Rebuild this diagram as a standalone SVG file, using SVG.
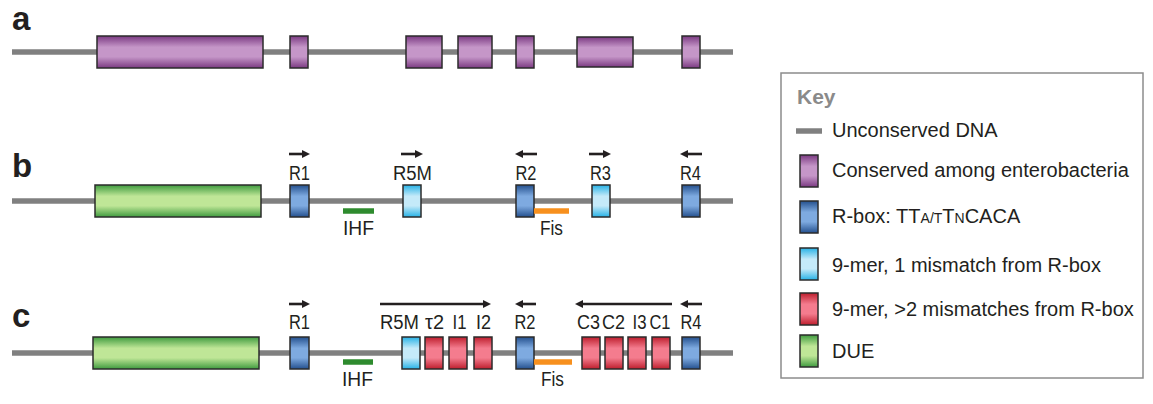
<svg xmlns="http://www.w3.org/2000/svg" width="1153" height="404" viewBox="0 0 1153 404">
<defs>
<linearGradient id="gPur" x1="0" y1="0" x2="0" y2="1"><stop offset="0" stop-color="#7b3a82"/><stop offset="0.35" stop-color="#c596c8"/><stop offset="0.65" stop-color="#c596c8"/><stop offset="1" stop-color="#7b3a82"/></linearGradient>
<linearGradient id="gGrn" x1="0" y1="0" x2="0" y2="1"><stop offset="0" stop-color="#3f9b3f"/><stop offset="0.35" stop-color="#bfe697"/><stop offset="0.65" stop-color="#bfe697"/><stop offset="1" stop-color="#3f9b3f"/></linearGradient>
<linearGradient id="gBlu" x1="0" y1="0" x2="0" y2="1"><stop offset="0" stop-color="#24508e"/><stop offset="0.35" stop-color="#7eaae0"/><stop offset="0.65" stop-color="#7eaae0"/><stop offset="1" stop-color="#24508e"/></linearGradient>
<linearGradient id="gLbl" x1="0" y1="0" x2="0" y2="1"><stop offset="0" stop-color="#27b2e6"/><stop offset="0.35" stop-color="#c5eaf9"/><stop offset="0.65" stop-color="#c5eaf9"/><stop offset="1" stop-color="#27b2e6"/></linearGradient>
<linearGradient id="gRed" x1="0" y1="0" x2="0" y2="1"><stop offset="0" stop-color="#be1e2d"/><stop offset="0.35" stop-color="#f47c8e"/><stop offset="0.65" stop-color="#f47c8e"/><stop offset="1" stop-color="#be1e2d"/></linearGradient>
<marker id="ah" markerUnits="userSpaceOnUse" markerWidth="9" markerHeight="9" refX="3" refY="4" orient="auto"><path d="M0,0 L8,4 L0,8 z" fill="#231f20"/></marker>
<style>
.dna{stroke:#808080;stroke-width:5.5;fill:none}
.bx{stroke:#2b2b2b;stroke-width:1.5}
.pur{fill:url(#gPur)}.grn{fill:url(#gGrn)}.blu{fill:url(#gBlu)}.lbl{fill:url(#gLbl)}.red{fill:url(#gRed)}
.lab{font-family:"Liberation Sans",Arial,sans-serif;font-size:20px;fill:#231f20;text-anchor:middle}
.key{font-family:"Liberation Sans",Arial,sans-serif;font-size:20px;fill:#231f20}
.row{font-family:"Liberation Sans",Arial,sans-serif;font-size:33px;font-weight:bold;fill:#231f20}
.arr{stroke:#231f20;stroke-width:2.6;fill:none;marker-end:url(#ah)}
.ihf{stroke:#2e8b2e;stroke-width:5.5}
.fis{stroke:#f7901e;stroke-width:5.5}
</style>
</defs>
<rect width="1153" height="404" fill="#ffffff"/>

<!-- Row a -->
<g id="rowA">
<text class="row" x="12" y="30">a</text>
<line class="dna" x1="12" y1="52" x2="733" y2="52"/>
<g id="a1"><rect class="bx pur" x="97" y="36" width="166" height="32"/></g>
<g id="a2"><rect class="bx pur" x="290" y="36" width="18" height="32"/></g>
<g id="a3"><rect class="bx pur" x="406" y="36" width="36" height="32"/></g>
<g id="a4"><rect class="bx pur" x="458" y="36" width="34" height="32"/></g>
<g id="a5"><rect class="bx pur" x="516" y="36" width="18" height="32"/></g>
<g id="a6"><rect class="bx pur" x="577" y="37" width="56" height="30"/></g>
<g id="a7"><rect class="bx pur" x="682" y="36" width="18" height="32"/></g>
</g>

<!-- Row b -->
<g id="rowB">
<text class="row" x="12" y="177">b</text>
<line class="dna" x1="12" y1="201" x2="733" y2="201"/>
<g id="bDUE"><rect class="bx grn" x="95" y="185" width="166" height="32"/></g>
<g id="bR1"><rect class="bx blu" x="290" y="185" width="19" height="32"/><text class="lab" x="299.5" y="180" textLength="21" lengthAdjust="spacingAndGlyphs">R1</text></g>
<g id="bIHF"><line class="ihf" x1="343" y1="211" x2="374" y2="211"/><text class="lab" x="358.5" y="235" textLength="31" lengthAdjust="spacingAndGlyphs">IHF</text></g>
<g id="bR5M"><rect class="bx lbl" x="403" y="185" width="18" height="32"/><text class="lab" x="412.5" y="180" textLength="39" lengthAdjust="spacingAndGlyphs">R5M</text></g>
<g id="bR2"><rect class="bx blu" x="516" y="185" width="18" height="32"/><text class="lab" x="526" y="180" textLength="21" lengthAdjust="spacingAndGlyphs">R2</text></g>
<g id="bFis"><line class="fis" x1="534" y1="211" x2="569" y2="211"/><text class="lab" x="551.5" y="235" textLength="23" lengthAdjust="spacingAndGlyphs">Fis</text></g>
<g id="bR3"><rect class="bx lbl" x="592" y="185" width="18" height="32"/><text class="lab" x="600.5" y="180" textLength="21" lengthAdjust="spacingAndGlyphs">R3</text></g>
<g id="bR4"><rect class="bx blu" x="682" y="185" width="18" height="32"/><text class="lab" x="690.5" y="180" textLength="21" lengthAdjust="spacingAndGlyphs">R4</text></g>
</g>

<!-- Row c -->
<g id="rowC">
<text class="row" x="12" y="327">c</text>
<line class="dna" x1="12" y1="353" x2="733" y2="353"/>
<g id="cDUE"><rect class="bx grn" x="93" y="337" width="166" height="32"/></g>
<g id="cR1"><rect class="bx blu" x="290" y="337" width="19" height="32"/><text class="lab" x="299.5" y="329" textLength="21" lengthAdjust="spacingAndGlyphs">R1</text></g>
<g id="cIHF"><line class="ihf" x1="343" y1="362" x2="373" y2="362"/><text class="lab" x="357.5" y="386" textLength="31" lengthAdjust="spacingAndGlyphs">IHF</text></g>
<g id="cR5M"><rect class="bx lbl" x="402" y="337" width="18" height="32"/><text class="lab" x="399.5" y="329" textLength="39" lengthAdjust="spacingAndGlyphs">R5M</text></g>
<g id="cT2"><rect class="bx red" x="425" y="337" width="18" height="32"/><text class="lab" x="434.5" y="329" textLength="19" lengthAdjust="spacingAndGlyphs">τ2</text></g>
<g id="cI1"><rect class="bx red" x="449" y="337" width="18" height="32"/><text class="lab" x="459.5" y="329" textLength="14" lengthAdjust="spacingAndGlyphs">I1</text></g>
<g id="cI2"><rect class="bx red" x="474" y="337" width="18" height="32"/><text class="lab" x="483.5" y="329" textLength="15" lengthAdjust="spacingAndGlyphs">I2</text></g>
<g id="cR2"><rect class="bx blu" x="516" y="337" width="18" height="32"/><text class="lab" x="525" y="329" textLength="21" lengthAdjust="spacingAndGlyphs">R2</text></g>
<g id="cFis"><line class="fis" x1="534" y1="362" x2="572" y2="362"/><text class="lab" x="552.5" y="386" textLength="23" lengthAdjust="spacingAndGlyphs">Fis</text></g>
<g id="cC3"><rect class="bx red" x="582" y="337" width="18" height="32"/><text class="lab" x="588.5" y="329" textLength="23" lengthAdjust="spacingAndGlyphs">C3</text></g>
<g id="cC2"><rect class="bx red" x="605" y="337" width="18" height="32"/><text class="lab" x="613.5" y="329" textLength="23" lengthAdjust="spacingAndGlyphs">C2</text></g>
<g id="cI3"><rect class="bx red" x="628" y="337" width="18" height="32"/><text class="lab" x="639.5" y="329" textLength="14" lengthAdjust="spacingAndGlyphs">I3</text></g>
<g id="cC1"><rect class="bx red" x="652" y="337" width="18" height="32"/><text class="lab" x="660" y="329" textLength="21" lengthAdjust="spacingAndGlyphs">C1</text></g>
<g id="cR4"><rect class="bx blu" x="682" y="337" width="18" height="32"/><text class="lab" x="691" y="329" textLength="21" lengthAdjust="spacingAndGlyphs">R4</text></g>
</g>

<!-- Connectors (orientation arrows) -->
<g id="connectors">
<line class="arr" x1="289" y1="154" x2="305" y2="154"/>
<line class="arr" x1="401" y1="154" x2="418" y2="154"/>
<line class="arr" x1="537" y1="154" x2="520" y2="154"/>
<line class="arr" x1="589" y1="154" x2="606" y2="154"/>
<line class="arr" x1="702" y1="154" x2="685" y2="154"/>
<line class="arr" x1="289" y1="304" x2="305" y2="304"/>
<line class="arr" x1="380" y1="304" x2="486" y2="304"/>
<line class="arr" x1="536" y1="304" x2="520" y2="304"/>
<line class="arr" x1="672" y1="304" x2="580" y2="304"/>
<line class="arr" x1="702" y1="304" x2="685" y2="304"/>
</g>

<!-- Key -->
<g id="key">
<rect x="781" y="73" width="362" height="305" fill="#ffffff" stroke="#8c8c8c" stroke-width="1.5"/>
<text x="797" y="104" font-family="'Liberation Sans',Arial,sans-serif" font-size="21" font-weight="bold" fill="#8a8a8a">Key</text>
<g id="keyDNA"><line class="dna" x1="796" y1="131" x2="822" y2="131"/><text class="key" x="832" y="137">Unconserved DNA</text></g>
<g id="keyCons"><rect class="bx pur" x="800" y="155" width="18" height="32"/><text class="key" x="832" y="177">Conserved among enterobacteria</text></g>
<g id="keyRbox"><rect class="bx blu" x="800" y="201" width="18" height="32"/><text class="key" x="832" y="223">R-box: TT<tspan font-size="14">A/T</tspan>T<tspan font-size="14">N</tspan>CACA</text></g>
<g id="key9mer1"><rect class="bx lbl" x="800" y="248" width="18" height="32"/><text class="key" x="832" y="272">9-mer, 1 mismatch from R-box</text></g>
<g id="key9mer2"><rect class="bx red" x="800" y="293" width="18" height="32"/><text class="key" x="832" y="316">9-mer, &gt;2 mismatches from R-box</text></g>
<g id="keyDUE"><rect class="bx grn" x="800" y="335" width="18" height="32"/><text class="key" x="832" y="358">DUE</text></g>
</g>
</svg>
